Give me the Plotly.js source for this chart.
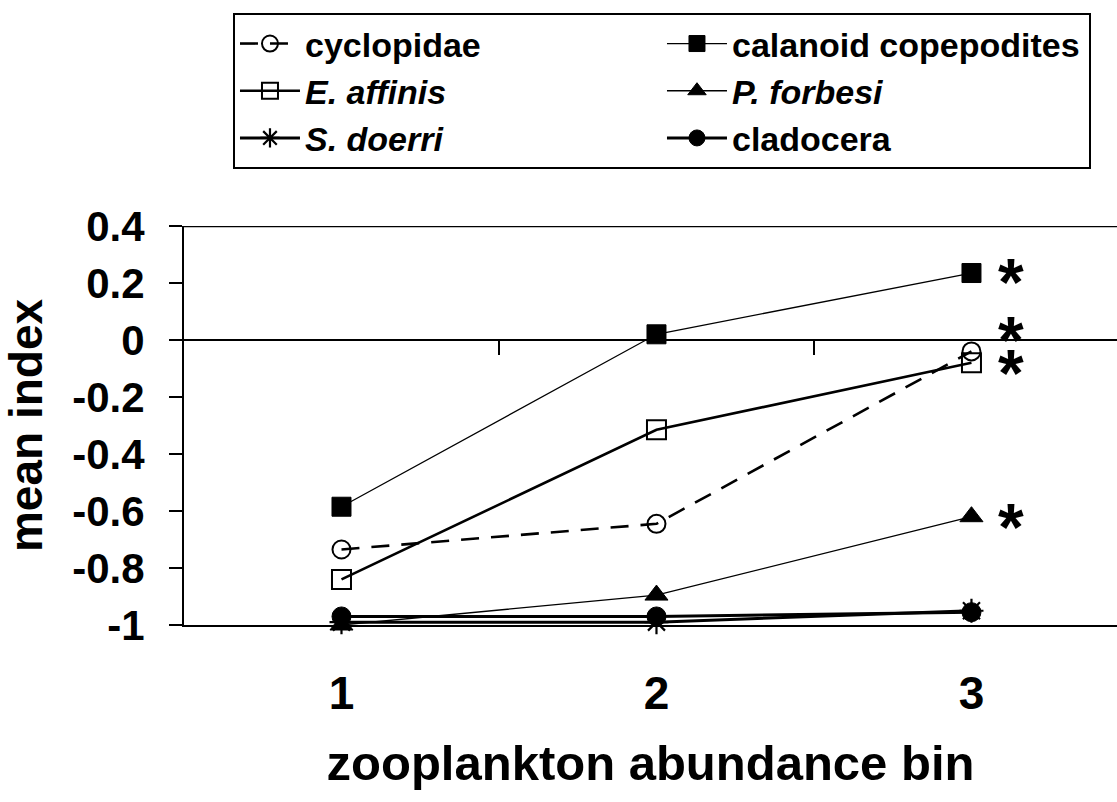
<!DOCTYPE html>
<html>
<head>
<meta charset="utf-8">
<script src="https://cdn.plot.ly/plotly-3.0.1.min.js"></script>
<style>
  html, body { margin: 0; padding: 0; background: #fff; overflow: hidden; }
  #chart { width: 1117px; height: 802px; }
</style>
</head>
<body>
<div id="chart"></div>
<script>
// ---- data ----
const bins = [1, 2, 3];
const binLabels = ["1", "2", "3"];

const cyclopidae = [-0.735, -0.645, -0.04];
const calanoidCopepodites = [-0.585, 0.02, 0.235];
const eAffinis = [-0.84, -0.315, -0.08];
const pForbesi = [-1.0, -0.895, -0.62];
const sDoerri = [-0.99, -0.99, -0.95];
const cladocera = [-0.97, -0.97, -0.955];

const yTickVals = [0.4, 0.2, 0, -0.2, -0.4, -0.6, -0.8, -1];
const yTickText = ["0.4", "0.2", "0", "-0.2", "-0.4", "-0.6", "-0.8", "-1"];

// significance asterisks next to bin 3
const starX = [3.125, 3.125, 3.125, 3.125];
const starY = [0.24, 0.035, -0.08, -0.62];

const FONT = "Liberation Sans, Arial, Helvetica, sans-serif";

function series(name, ys, symbol, size, lineWidth, dash, markerLineWidth) {
  return {
    type: "scatter",
    mode: "lines+markers",
    name: name,
    x: bins,
    y: ys,
    line: { color: "#000", width: lineWidth, dash: dash },
    marker: {
      symbol: symbol,
      size: size,
      color: "#000",
      line: { color: "#000", width: markerLineWidth }
    },
    cliponaxis: false
  };
}

const traces = [
  series("cyclopidae", cyclopidae, "circle-open", 18, 2.6, "18px,12px", 2),
  series("calanoid copepodites", calanoidCopepodites, "square", 19, 1.3, "solid", 1),
  series("<i>E. affinis</i>", eAffinis, "square-open", 19, 2.6, "solid", 2),
  series("<i>P. forbesi</i>", pForbesi, "triangle-up", 20, 1.3, "solid", 1),
  series("<i>S. doerri</i>", sDoerri, "asterisk-open", 20, 3, "solid", 2.2),
  series("cladocera", cladocera, "circle", 19, 3, "solid", 1)
];

const annotations = starX.map((x, i) => ({
  x: x, y: starY[i], xref: "x", yref: "y",
  text: "*", showarrow: false,
  font: { family: FONT, size: 66, color: "#000", weight: "bold" },
  xanchor: "center", yanchor: "middle", yshift: -10
}));

const layout = {
  width: 1117,
  height: 802,
  paper_bgcolor: "#fff",
  plot_bgcolor: "#fff",
  margin: { l: 184, r: 0, t: 226, b: 177 },
  font: { family: FONT, color: "#000", weight: "bold" },
  showlegend: true,
  legend: {
    orientation: "h",
    x: 0.0525, xanchor: "left",
    y: 1.534, yanchor: "top",
    entrywidth: 352,
    entrywidthmode: "pixels",
    itemwidth: 60,
    itemsizing: "trace",
    bordercolor: "#000",
    borderwidth: 2,
    bgcolor: "#fff",
    font: { family: FONT, size: 34, color: "#000", weight: "bold" },
    traceorder: "normal"
  },
  xaxis: {
    range: [0.5, 3.462],
    tickvals: bins,
    ticktext: binLabels,
    ticks: "",
    showgrid: false,
    zeroline: false,
    showline: true,
    linecolor: "#000",
    linewidth: 2,
    ticklabelstandoff: 27,
    tickfont: { family: FONT, size: 46, color: "#000", weight: "bold" },
    title: {
      text: "zooplankton abundance bin",
      font: { family: FONT, size: 49, color: "#000", weight: "bold" },
      standoff: 27
    },
    fixedrange: true
  },
  yaxis: {
    range: [-1, 0.4],
    tickvals: yTickVals,
    ticktext: yTickText,
    ticks: "outside",
    ticklen: 13,
    tickwidth: 2,
    tickcolor: "#000",
    showgrid: false,
    zeroline: true,
    zerolinecolor: "#000",
    zerolinewidth: 1.5,
    showline: true,
    linecolor: "#000",
    linewidth: 2,
    ticklabelstandoff: 16,
    tickfont: { family: FONT, size: 42, color: "#000", weight: "bold" },
    title: {
      text: "mean index",
      font: { family: FONT, size: 46, color: "#000", weight: "bold" },
      standoff: 26
    },
    fixedrange: true
  },
  shapes: [
    // top frame line at 0.4
    { type: "line", xref: "paper", x0: 0, x1: 1, yref: "y", y0: 0.4, y1: 0.4,
      line: { color: "#000", width: 2.5 } },
    // category separator ticks on the zero line
    { type: "line", xref: "x", x0: 1.5, x1: 1.5, yref: "y", ysizemode: "pixel",
      yanchor: 0, y0: 0, y1: -15, line: { color: "#000", width: 2 } },
    { type: "line", xref: "x", x0: 2.5, x1: 2.5, yref: "y", ysizemode: "pixel",
      yanchor: 0, y0: 0, y1: -15, line: { color: "#000", width: 2 } }
  ],
  annotations: annotations
};

Plotly.newPlot("chart", traces, layout, { displayModeBar: false, staticPlot: true });
</script>
</body>
</html>
